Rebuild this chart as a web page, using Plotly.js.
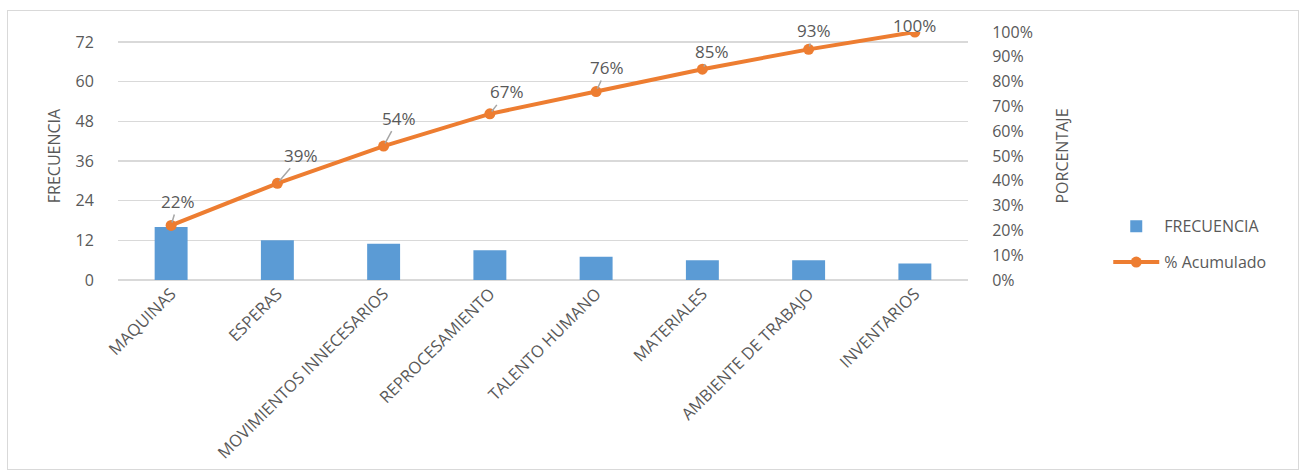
<!DOCTYPE html>
<html><head><meta charset="utf-8">
<script src="https://cdn.plot.ly/plotly-3.0.1.min.js"></script>
<style>
body{margin:0;background:#fff;}
#frame{position:absolute;left:7px;top:10px;width:1292px;height:460px;border:1px solid #d9d9d9;box-sizing:border-box;pointer-events:none;z-index:5;}
#chart{position:absolute;left:0;top:0;width:1304px;height:474px;}
</style></head>
<body>
<div id="chart"></div>
<div id="frame"></div>
<script>
const categories = ["MAQUINAS","ESPERAS","MOVIMIENTOS INNECESARIOS","REPROCESAMIENTO","TALENTO HUMANO","MATERIALES","AMBIENTE DE TRABAJO","INVENTARIOS"];
const frecuencia = [16, 12, 11, 9, 7, 6, 6, 5];
const acumulado = [0.22, 0.39, 0.54, 0.67, 0.76, 0.85, 0.93, 1.00];
const acumuladoLabels = ["22%","39%","54%","67%","76%","85%","93%","100%"];
const leftTicks = [0, 12, 24, 36, 48, 60, 72];

// label offsets (style only, pixels)
const labelOffsets = [[7,-24],[24,-28],[15,-28],[17,-22],[11,-24],[10,-18],[5,-19],[0,-7]];

const font = "'Open Sans', 'Liberation Sans', sans-serif";
const gray = "#595959";

const traces = [
  {type:'bar', x:categories, y:frecuencia, name:'FRECUENCIA', marker:{color:'#5B9BD5'}, yaxis:'y', legendgroup:'a'},
  {type:'scatter', mode:'lines+markers', x:categories, y:acumulado, name:'% Acumulado', yaxis:'y2', legendgroup:'b',
   line:{color:'#ED7D31', width:4}, marker:{color:'#ED7D31', size:11}}
];

const annotations = categories.map((c,i)=>({
  x:c, y:acumulado[i], xref:'x', yref:'y2', text:acumuladoLabels[i],
  showarrow:true, arrowhead:0, arrowwidth:1.5, arrowcolor:'#a6a6a6',
  ax:labelOffsets[i][0], ay:labelOffsets[i][1], standoff:3,
  font:{family:font, size:17, color:gray}
}));

const layout = {
  width:1304, height:474,
  margin:{l:118, r:336, t:32, b:194, pad:0},
  paper_bgcolor:'#fff', plot_bgcolor:'#fff',
  bargap:0.69,
  showlegend:true,
  legend:{x:1.165, y:0.285, xanchor:'left', yanchor:'top', font:{family:font, size:16, color:gray}, tracegroupgap:12, itemwidth:46, bgcolor:'rgba(0,0,0,0)'},
  xaxis:{tickangle:-45, tickfont:{family:font, size:16.5, color:gray}, showgrid:false, showline:false, ticks:'', automargin:false},
  yaxis:{range:[0, 75.03], tickvals:leftTicks, ticktext:leftTicks.map(String), showgrid:true, gridcolor:'#d9d9d9', gridwidth:1.3,
    zeroline:true, zerolinecolor:'#d9d9d9', zerolinewidth:1.3, showline:false,
    ticks:'outside', ticklen:20, tickcolor:'rgba(0,0,0,0)',
    tickfont:{family:font, size:16, color:gray},
    title:{text:'FRECUENCIA', font:{family:font, size:16, color:gray}, standoff:10}, automargin:false},
  yaxis2:{overlaying:'y', side:'right', range:[0,1], dtick:0.1, tickformat:'.0%', showgrid:false, zeroline:false, showline:false,
    ticks:'outside', ticklen:20, tickcolor:'rgba(0,0,0,0)',
    tickfont:{family:font, size:16, color:gray},
    title:{text:'PORCENTAJE', font:{family:font, size:16, color:gray}, standoff:24}, automargin:false},
  annotations:annotations
};

Plotly.newPlot('chart', traces, layout, {staticPlot:true, displayModeBar:false});
</script>
</body></html>
